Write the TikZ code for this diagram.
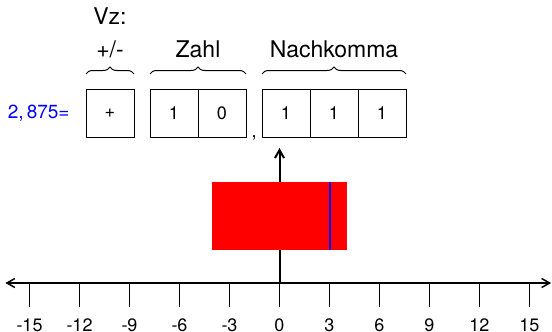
\documentclass[tikz,border=0pt]{standalone}
\usepackage{fontspec}
\setmainfont{TeX Gyre Heros}
\usetikzlibrary{positioning,calc,arrows.meta,decorations.pathreplacing}

\tikzset{
  bitbox/.style={draw, line width=0.5pt, minimum width=24pt, minimum height=24pt,
    inner sep=0pt, outer sep=0pt, font=\fontsize{9}{11}\selectfont},
  grouplabel/.style={anchor=base, font=\fontsize{11.5}{13}\selectfont},
  groupbrace/.style={decorate, decoration={brace, amplitude=3.5pt}, line width=0.5pt},
  ticklabel/.style={anchor=base, inner sep=0pt, font=\fontsize{9}{11}\selectfont}
}

\begin{document}
\begin{tikzpicture}[x=0.5pt, y=-0.5pt, >={Straight Barb[length=4pt,width=4.5pt]}]
  \useasboundingbox (0,0) rectangle (552,332);

  % Bits
  \node[bitbox] (sign) at (110,113) {+};
  \node[bitbox, right=8pt of sign] (int1) {1};
  \node[bitbox, right=0pt of int1] (int0) {0};
  \node[bitbox, right=8pt of int0] (frac1) {1};
  \node[bitbox, right=0pt of frac1] (frac2) {1};
  \node[bitbox, right=0pt of frac2] (frac3) {1};

  % Value
  \node[left=8pt of sign, inner sep=0pt, text=blue, font=\fontsize{9.5}{11}\selectfont] (value) {2,\,875=};

  % Comma
  \node[anchor=base, inner sep=0pt, font=\fontsize{9}{11}\selectfont] (comma)
    at ($(int0.south east)!0.5!(frac1.south west)$) {,};

  % Braces
  \draw[groupbrace] ($(sign.north west)+(0,-15)$) -- ($(sign.north east)+(0,-15)$);
  \draw[groupbrace] ($(int1.north west)+(0,-15)$) -- ($(int0.north east)+(0,-15)$);
  \draw[groupbrace] ($(frac1.north west)+(0,-15)$) -- ($(frac3.north east)+(0,-15)$);

  % Labels
  \node[grouplabel] (signlbl) at ($(sign.north)+(0,-31.5)$) {+/-};
  \node[grouplabel] (vz) at ($(signlbl.base)+(0,-32.5)$) {Vz:};
  \node[grouplabel] (intlbl) at ($(int1.north east)+(0,-31.5)$) {Zahl};
  \node[grouplabel] (fraclbl) at ($(frac2.north)+(0,-31.5)$) {Nachkomma};

  % Number line
  \begin{scope}[shift={(279.5,283)}, x=8.333pt]
    \coordinate (o) at (0,0);
    \coordinate (top) at (0,-135);
    \coordinate (left) at (-16.45,0);
    \coordinate (right) at (16.3,0);

    \draw[line width=0.75pt, <->] (left) -- (right);
    \foreach \t in {-15,-12,...,15} {
      \draw[line width=0.75pt] (\t,0) -- (\t,24);
      \node[ticklabel] (tick\t) at (\t,48) {\t};
    }

    % Arrow up to the bits
    \draw[line width=1pt, ->] (o) -- (top);

    % Range
    \foreach \i in {0,...,80}
      \draw[red, line width=0.72pt] (-4+\i/10,-101.5) -- (-4+\i/10,-33.5);
    \draw[blue, line width=1pt] (3,-101.5) -- (3,-33.5);
  \end{scope}
\end{tikzpicture}
\end{document}
